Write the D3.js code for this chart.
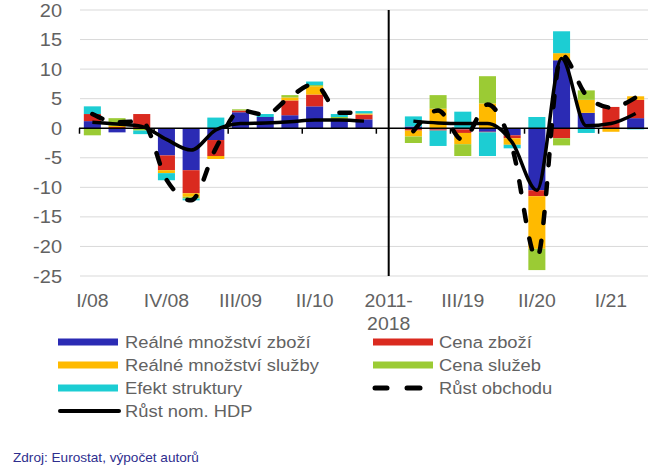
<!DOCTYPE html>
<html><head><meta charset="utf-8">
<script src="https://cdn.jsdelivr.net/npm/d3@7"></script>
<style>
body{margin:0;background:#fff;}
svg{display:block;font-family:"Liberation Sans",Arial,sans-serif;}
</style></head>
<body><svg id="c" width="665" height="474"></svg>
<script>
const categories = ["I/08","II/08","III/08","IV/08","I/09","II/09","III/09","IV/09","I/10","II/10","III/10","IV/10","2011-2018","I/19","II/19","III/19","IV/19","I/20","II/20","III/20","IV/20","I/21","II/21"];
const yTicks = [20,15,10,5,0,-5,-10,-15,-20,-25];
const xLabelIdx = [0,3,6,9,12,15,18,21];

const realGoods    = [1.2,-0.7,0,-4.6,-7.1,-2.0,2.7,1.9,2.2,3.7,1.6,1.5,null,0.3,-0.2,-0.2,-0.6,-1.2,-10.5,11.5,2.6,0,1.7];
const priceGoods   = [1.2,0.2,2.4,-2.5,-3.9,-2.7,0.3,0,2.5,2.0,0,0.8,null,-0.4,-0.2,-0.6,-0.1,-0.5,-1.0,-1.7,0,3.6,3.1];
const realServices = [0,0.2,0,-0.5,-0.6,-0.5,0,0,0.5,1.4,0,0.2,null,-1.0,3.3,-1.9,4.2,-1.1,-8.9,1.2,2.2,-0.6,0.6];
const priceServices= [-1.2,1.3,-0.4,0,-0.3,0,0.2,0,0.4,0.2,0.3,0,null,-1.1,2.3,-2.0,4.6,0,-3.6,-1.2,1.6,0,0];
const structEffect = [1.3,0,-0.6,-1.2,-0.3,1.8,0,0.5,0,0.6,0.5,0.4,null,1.7,-2.6,2.8,-4.0,-0.6,1.9,3.7,-0.8,0,-0.2];
const tradeGrowth  = [2.4,1.0,1.2,-8.7,-12.2,-3.4,3.0,2.3,5.3,7.5,2.6,2.6,null,-0.5,3.0,-2.0,4.0,-3.3,-22.0,12.4,5.6,3.5,5.2];
const gdpGrowth    = [1.0,0.7,0.3,-1.9,-3.7,-0.3,0.8,0.9,1.1,1.4,1.4,1.2,null,1.2,0.9,0.8,0.8,-2.4,-10.5,11.8,0.4,0.8,2.5];

const seriesNames = ["Reálné množství zboží","Cena zboží","Reálné množství služby","Cena služeb","Efekt struktury"];
const seriesData = [realGoods,priceGoods,realServices,priceServices,structEffect];
const colors = ["#2B2BB4","#DA2A1F","#FFBA00","#9BCB34","#1CCDD3"];

const svg = d3.select("#c");
const x = d3.scaleBand().domain(categories).range([80,648]).paddingInner(0.31).paddingOuter(0.155);
const y = d3.scaleLinear().domain([-25,20]).range([276,10]);
const textGray = "#626262";
const SX = 1.08;

function stext(g, tx, ty, str, opts){
  return g.append("text").attr("transform",`translate(${tx},${ty}) scale(${SX},1)`)
    .attr("font-size",opts.size).attr("fill",opts.fill||textGray)
    .attr("text-anchor",opts.anchor||"start").text(str);
}

// gridlines
svg.append("g").selectAll("line").data(yTicks.filter(v=>v!==0)).join("line")
  .attr("x1",80).attr("x2",648).attr("y1",d=>y(d)).attr("y2",d=>y(d))
  .attr("stroke","#D9D9D9").attr("stroke-width",1);

// y tick labels
const yl = svg.append("g");
yTicks.forEach(v=>stext(yl,62,y(v)+6.5,String(v),{size:18.5,anchor:"end"}));

// stacked bars
const rows = categories.map((c,i)=>{const o={cat:c}; seriesNames.forEach((s,k)=>o[s]=seriesData[k][i]==null?0:seriesData[k][i]); return o;});
const stack = d3.stack().keys(seriesNames).offset(d3.stackOffsetDiverging)(rows);
stack.forEach((layer,k)=>{
  svg.append("g").attr("fill",colors[k]).selectAll("rect").data(layer).join("rect")
    .attr("x",d=>x(d.data.cat)).attr("width",x.bandwidth())
    .attr("y",d=>y(Math.max(d[0],d[1]))).attr("height",d=>Math.abs(y(d[0])-y(d[1])));
});

// zero axis & ticks
svg.append("line").attr("x1",79).attr("x2",648).attr("y1",y(0)).attr("y2",y(0)).attr("stroke","#000").attr("stroke-width",1.5);
const step = x.step();
const tickPos = [0,3,6,9,12,15,18,21].map(i=>x(categories[i]) - x.paddingInner()*step/2);
tickPos[0] = 79.5;
svg.append("g").selectAll("line").data(tickPos).join("line")
  .attr("x1",d=>d).attr("x2",d=>d).attr("y1",y(0)).attr("y2",y(0)+5.5)
  .attr("stroke","#000").attr("stroke-width",1.5);

// separator
const sepX = x("2011-2018")+x.bandwidth()/2;
svg.append("line").attr("x1",sepX).attr("x2",sepX).attr("y1",10).attr("y2",276).attr("stroke","#000").attr("stroke-width",2);

// lines
const cx = i=>x(categories[i])+x.bandwidth()/2;
const line = d3.line().defined(d=>d!=null).x((d,i)=>cx(i)).y(d=>y(d)).curve(d3.curveMonotoneX);
svg.append("path").attr("d",line(gdpGrowth)).attr("fill","none").attr("stroke","#000").attr("stroke-width",3.5).attr("stroke-linejoin","round");
svg.append("path").attr("d",line(tradeGrowth)).attr("fill","none").attr("stroke","#000").attr("stroke-width",4.5)
  .attr("stroke-dasharray","11,18").attr("stroke-linecap","round");

// x labels
const xl = svg.append("g");
xLabelIdx.forEach(i=>{
  const c = categories[i];
  const px = cx(i);
  if(c==="2011-2018"){
    stext(xl,px,307,"2011-",{size:18,anchor:"middle"});
    stext(xl,px,330,"2018",{size:18,anchor:"middle"});
  } else stext(xl,px,307,c,{size:18,anchor:"middle"});
});

// legend
const lg = svg.append("g");
const rowsY = [342,365,388,411];
const leg = [
  {n:seriesNames[0],c:colors[0],col:0,r:0,t:"bar"},
  {n:seriesNames[1],c:colors[1],col:1,r:0,t:"bar"},
  {n:seriesNames[2],c:colors[2],col:0,r:1,t:"bar"},
  {n:seriesNames[3],c:colors[3],col:1,r:1,t:"bar"},
  {n:seriesNames[4],c:colors[4],col:0,r:2,t:"bar"},
  {n:"Růst obchodu",c:"#000",col:1,r:2,t:"dash"},
  {n:"Růst nom. HDP",c:"#000",col:0,r:3,t:"line"}
];
leg.forEach(e=>{
  const sx = e.col===0?58:373, tx = e.col===0?125:439, cy = rowsY[e.r];
  if(e.t==="bar") lg.append("rect").attr("x",sx).attr("y",cy-3.5).attr("width",60).attr("height",7).attr("fill",e.c);
  else if(e.t==="line") lg.append("line").attr("x1",sx+2).attr("x2",sx+61).attr("y1",cy).attr("y2",cy).attr("stroke","#000").attr("stroke-width",4).attr("stroke-linecap","round");
  else { [[sx+2,sx+14],[sx+34,sx+47]].forEach(p=>lg.append("line").attr("x1",p[0]).attr("x2",p[1]).attr("y1",cy).attr("y2",cy).attr("stroke","#000").attr("stroke-width",5).attr("stroke-linecap","round")); }
  stext(lg,tx,cy+6,e.n,{size:17});
});

// source
svg.append("text").attr("x",13).attr("y",462).attr("font-size",13.6).attr("fill","#2E2E8E").text("Zdroj: Eurostat, výpočet autorů");
</script></body></html>
